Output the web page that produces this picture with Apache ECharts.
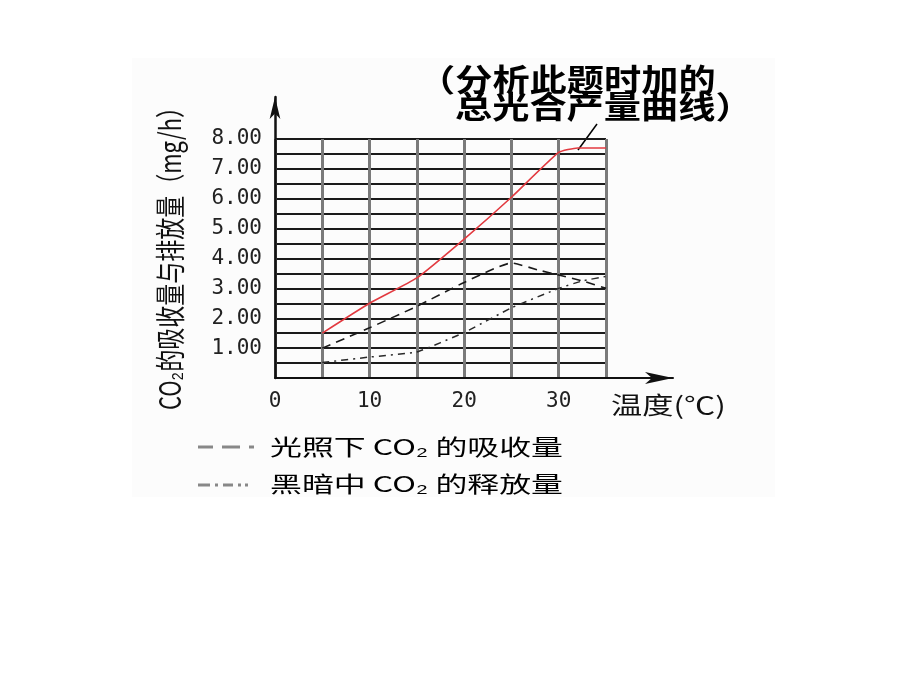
<!DOCTYPE html>
<html>
<head>
<meta charset="utf-8">
<script src="https://cdn.jsdelivr.net/npm/echarts@6/dist/echarts.min.js"></script>
<style>
  html, body { margin: 0; padding: 0; background: #fff; }
  #chart { width: 920px; height: 690px; }
</style>
</head>
<body>
<div id="chart"></div>
<script>
// 总光合产量（红线）
const totalTemps = [5, 10, 15, 20, 25, 30, 32, 35];
const totalVals = [1.5, 2.5, 3.35, 4.65, 6.05, 7.55, 7.7, 7.7];
// 光照下 CO2 的吸收量
const lightTemps = [5, 10, 15, 20, 25, 28, 30, 32.5, 35];
const lightVals = [1.0, 1.68, 2.4, 3.2, 3.85, 3.6, 3.45, 3.25, 3.0];
// 黑暗中 CO2 的释放量
const darkTemps = [5, 10, 15, 20, 25, 30, 32.5, 35];
const darkVals = [0.52, 0.7, 0.87, 1.52, 2.35, 3.0, 3.25, 3.4];

const xLabelValues = [0, 10, 20, 30];
const legendNames = ['光照下 CO₂ 的吸收量', '黑暗中 CO₂ 的释放量'];

const cjk = '"Noto Sans CJK SC", sans-serif';

function pairs(xs, ys) {
    return xs.map((x, i) => [x, ys[i]]);
}

const chart = echarts.init(document.getElementById('chart'));

const option = {
    animation: false,
    backgroundColor: '#fff',
    grid: [
        { left: 275, right: 314, top: 139, bottom: 312 },
        { left: 275, right: 247, top: 97, bottom: 312 }
    ],
    xAxis: [
        {
            gridIndex: 0, type: 'value', min: 0, max: 35, interval: 5, z: 1,
            axisLine: { show: false }, axisTick: { show: false },
            splitLine: { show: true, lineStyle: { color: '#7a7a7a', width: 3 } },
            axisLabel: {
                margin: 13, color: '#222', fontSize: 21,
                fontFamily: '"DejaVu Sans Mono", monospace',
                formatter: v => xLabelValues.includes(v) ? String(v) : ''
            }
        },
        {
            gridIndex: 1, type: 'value', min: 0, max: 1, z: 2,
            axisLine: {
                show: true, symbol: ['none', 'arrow'], symbolSize: [9, 28],
                lineStyle: { color: '#111', width: 2 }
            },
            axisTick: { show: false }, axisLabel: { show: false }, splitLine: { show: false }
        }
    ],
    yAxis: [
        {
            gridIndex: 0, type: 'value', min: 0, max: 8, interval: 0.5, z: 0,
            axisLine: { show: false }, axisTick: { show: false },
            splitLine: { show: true, lineStyle: { color: '#1a1a1a', width: 1.8 } },
            axisLabel: {
                margin: 13, color: '#222', fontSize: 21,
                fontFamily: '"DejaVu Sans Mono", monospace',
                formatter: v => (v >= 1 && v % 1 === 0) ? v.toFixed(2) : ''
            }
        },
        {
            gridIndex: 1, type: 'value', min: 0, max: 1, z: 2,
            axisLine: {
                show: true, symbol: ['none', 'arrow'], symbolSize: [8, 22],
                lineStyle: { color: '#111', width: 2.5 }
            },
            axisTick: { show: false }, axisLabel: { show: false }, splitLine: { show: false }
        }
    ],
    series: [
        {
            name: '总光合产量', type: 'line', xAxisIndex: 0, yAxisIndex: 0,
            data: pairs(totalTemps, totalVals), symbol: 'none', smooth: 0.15,
            lineStyle: { color: '#e23a40', width: 1.6 }, z: 5
        },
        {
            name: legendNames[0], type: 'line', xAxisIndex: 0, yAxisIndex: 0,
            data: pairs(lightTemps, lightVals), symbol: 'none', smooth: 0.15,
            lineStyle: { color: '#1a1a1a', width: 1.6, type: [9, 6] }, z: 5
        },
        {
            name: legendNames[1], type: 'line', xAxisIndex: 0, yAxisIndex: 0,
            data: pairs(darkTemps, darkVals), symbol: 'none', smooth: 0.1,
            lineStyle: { color: '#2a2a2a', width: 1.5, type: [7, 5, 2, 5] }, z: 5
        }
    ],
    graphic: [
        // 原图的浅灰底
        {
            type: 'rect', silent: true, z: -100,
            shape: { x: 132, y: 58, width: 643, height: 439 },
            style: { fill: '#fcfcfc' }
        },
        // 纵轴标题
        {
            type: 'text', x: 170, y: 253, rotation: Math.PI / 2, scaleY: 1.35,
            style: {
                text: 'CO₂的吸收量与排放量（mg/h）', fontFamily: cjk, fontSize: 22,
                fill: '#111', align: 'center', verticalAlign: 'middle'
            }
        },
        // 横轴标题
        {
            type: 'text', x: 611, y: 405, scaleX: 1.3,
            style: {
                text: '温度(℃)', fontFamily: cjk, fontSize: 24,
                fill: '#111', align: 'left', verticalAlign: 'middle'
            }
        },
        // 注释
        {
            type: 'text', x: 418, y: 79, scaleX: 1.2,
            style: {
                text: '（分析此题时加的', fontFamily: cjk, fontSize: 31, fontWeight: 'bold',
                fill: '#000', align: 'left', verticalAlign: 'middle'
            }
        },
        {
            type: 'text', x: 455, y: 106, scaleX: 1.2,
            style: {
                text: '总光合产量曲线）', fontFamily: cjk, fontSize: 31, fontWeight: 'bold',
                fill: '#000', align: 'left', verticalAlign: 'middle'
            }
        },
        {
            type: 'line', shape: { x1: 578, y1: 150, x2: 597, y2: 124 },
            style: { stroke: '#000', lineWidth: 1.5 }
        },
        // 图例
        {
            type: 'line', shape: { x1: 198, y1: 447, x2: 258, y2: 447 },
            style: { stroke: '#888', lineWidth: 3, lineDash: [15, 9, 18, 9, 5, 100] }
        },
        {
            type: 'text', x: 270, y: 447, scaleX: 1.45,
            style: {
                text: legendNames[0], fontFamily: cjk, fontSize: 22,
                fill: '#000', align: 'left', verticalAlign: 'middle'
            }
        },
        {
            type: 'line', shape: { x1: 198, y1: 485, x2: 258, y2: 485 },
            style: { stroke: '#888', lineWidth: 3, lineDash: [12, 5, 3, 5, 10, 5, 3, 4, 3, 100] }
        },
        {
            type: 'text', x: 270, y: 484, scaleX: 1.45,
            style: {
                text: legendNames[1], fontFamily: cjk, fontSize: 22,
                fill: '#000', align: 'left', verticalAlign: 'middle'
            }
        }
    ]
};

chart.setOption(option);
</script>
</body>
</html>
